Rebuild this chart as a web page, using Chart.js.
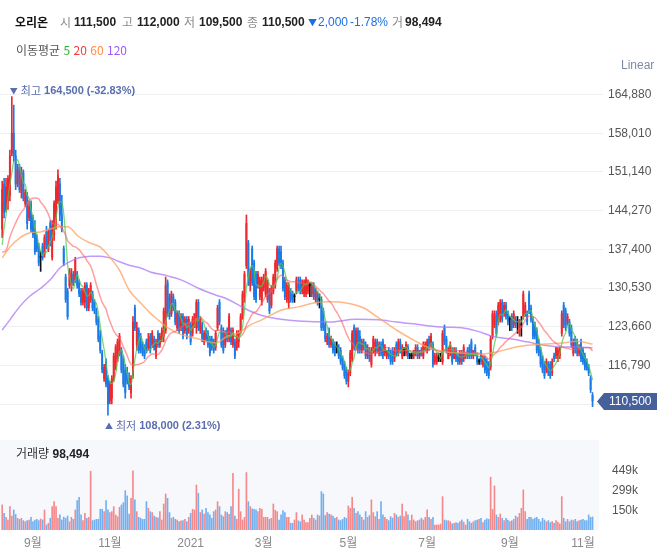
<!DOCTYPE html>
<html lang="ko">
<head>
<meta charset="utf-8">
<title>오리온</title>
<script src="https://cdn.jsdelivr.net/npm/chart.js@4.4.1/dist/chart.umd.min.js"></script>
<style>
  html, body { margin:0; padding:0; background:#fff; }
  #wrap { position:relative; width:657px; height:553px; overflow:hidden; font-family:"Liberation Sans","Noto Sans CJK KR",sans-serif; }
  #wrap canvas { position:absolute; left:0; top:0; }
  .t { position:absolute; white-space:nowrap; font-size:12px; line-height:16px; }
  .name { color:#111; font-weight:700; font-family:"Noto Sans CJK KR",sans-serif; }
  .lb { color:#8b8b8b; font-family:"Noto Sans CJK KR",sans-serif; }
  .v { color:#222; font-weight:700; }
  .dn { color:#1b6fe4; }
  #volPanel { position:absolute; left:0; top:440px; width:599px; height:90px; background:#f7f8fc; }
</style>
</head>
<body>
<div id="wrap">
  <div id="volPanel"></div>
  <canvas id="vol" width="657" height="553"></canvas>
  <canvas id="price" width="657" height="553"></canvas>
  <div id="hdr"></div>
  <div class="t" style="left:16px;top:42px;color:#555;font-family:'Noto Sans CJK KR',sans-serif;">이동평균 <span style="color:#35b035">5</span> <span style="color:#f23b3b">20</span> <span style="color:#ff8c45">60</span> <span style="color:#9b5cf6">120</span></div>
  <div class="t" style="left:621px;top:57px;color:#7d8ba3;">Linear</div>
  <div class="t" id="volTitle" style="left:16px;top:445px;color:#333;"></div>
</div>
<script>
// ---------------- data (prices in thousand KRW, volume in thousand shares) ----------------
const monthTickIdx    = [16, 56, 98, 136, 180, 221, 264, 302];
const monthTickLabels = ['9월', '11월', '2021', '3월', '5월', '7월', '9월', '11월'];
const priceTicks = [109920, 116790, 123660, 130530, 137400, 144270, 151140, 158010, 164880];

const opensK = [
141,149,144.5,146,147,154.5,158,154,149,152,
147.5,151,145.5,147,143,145.5,143,141,139.5,138,
136,138,136.5,140.5,137.5,142,136,140,143,146,
149,143.5,137.5,132.5,130,131,131,133,132,133,
131.5,130,128,128,131,127,128.5,129.5,128,126.5,
125,122,119,114.5,117.5,114.5,110.5,111,114.5,116.5,
118,119,119.5,118,116,115.5,114.5,112,115,127,
120.5,123,122,120.5,120,121,120,122,120.5,121.5,
118.5,122.5,120.5,121.5,122,123,131.5,129,126,129,
128,123.5,126,123.5,125.5,123,125,123,124,122.5,
124,123.5,128,123,124,121,123,122.5,121.5,121.5,
121,120,123.5,128,123.5,123,120.5,123,121.5,123,
120.5,121,120,121,123,125.5,129,134.5,138.5,131,
137.5,135,133,131,129,128,130.5,129.5,128.5,130,
127.5,130,131,134,137.5,137,135,132,128.5,128,
130,129.5,129,130,131,132,130,129.5,129.5,130,
131,129.5,131,128.5,129.5,128.5,128.5,126.5,124,121,
123,120.5,121,120.5,120,120,119.5,118,117,116,
114,115.5,118,123.5,120,123,122,119.5,121,120.5,
118.5,119.5,117,119.5,119,121,119,120.5,121,119,
118.5,119.5,119,119.5,118,120.5,119,121,118.5,119.5,
119,120,118.5,118.5,118.5,119,120,118.5,119.5,118.5,
119.5,119.5,121.5,120.5,120.5,117.5,117.5,118,118,117.5,
123.5,121.5,118,119,119.5,118,119.5,118.5,117.5,119,
118,118.5,119.5,120,121,118.5,120,118.5,117.5,119,
117,118,117.5,117,116.5,122,124,126,124.5,125,
128,126,127.5,126,125,125.5,124,125,124.5,122.5,
124,125.5,126,126,129.5,127,125,124,123,121,
119.5,118,117,116,117,117,115.5,118.5,118.5,118,
118.5,122.5,127.5,126.5,124.5,124.5,123.5,119,121.5,121,
119,121,119.5,118.5,117.5,116.5,114.5,111.5];

const highsK = [
149.5,150,150,150.5,155,164.5,163,155,152.5,152.5,
152,151.5,148,147.5,146,146,143.5,142.5,140,138.5,
137,138.5,140,141.5,141,142.5,142.5,146,149.5,151.5,
150,147,138,133,130.5,134,134,133.5,136,133.5,
132,130.5,130.5,131.5,131.5,130.5,131.5,130,128.5,127,
125.5,123,119.5,117,118,115,114,115,119,120.5,
121.5,122.5,120,118.5,117,116.5,115.5,115,125.5,127.5,
124.5,123.5,122.5,121,120.5,121.5,122.5,122.5,123,122,
121.5,123,122.5,123.5,127,132.5,132,129.5,130,129.5,
128.5,126.5,126.5,126,126,125.5,125.5,125.5,124.5,125.5,
126,128.5,128.5,125.5,124.5,123,123.5,123,122,122,
121.5,123,127.5,128.5,124,123.5,123,123.5,126,123.5,
123.5,121.5,123,123,126,130,133.5,143.5,139,134,
138,135.5,133.5,133.5,132.5,132.5,133,134,132,130.5,
131,133,135.5,138,138,138,135.5,132.5,131.5,131.5,
130.5,130,129.5,132.5,132.5,132.5,132,132,132.5,132,
131.5,131.5,131.5,130.5,130,129.5,129,127,124.5,122.5,
123.5,122,121.5,121,121,120.5,120,118.5,117.5,116.5,
116,119.5,123,124,123.5,123.5,123,121.5,121.5,121,
120.5,120,120,122,121.5,121.5,121,121,121.5,120.5,
119.5,120,119.5,120,120,121,121.5,121.5,120.5,120,
121,120.5,119,119,119.5,120.5,120.5,119.5,120,121,
121,121.5,122,122.5,121,119,119,119,119,123,
124,122,120,121,120,120,120,119,119.5,119.5,
120.5,119,120,120.5,121.5,119.5,120.5,119,118,119.5,
118.5,118.5,118,117.5,122,126.5,126.5,126.5,128,128.5,
128.5,128,128,126.5,125.5,126,126.5,125.5,125.5,125,
125.5,130,128,126.5,130,127.5,125.5,124.5,123.5,121.5,
120,118.5,117.5,118,117.5,117.5,118,119,120,120,
120,126.5,128,127,126,125,124,121.5,122,121.5,
120.5,121.5,120,119,118,117,115,112];

const lowsK = [
139.5,143,144,144.5,146,154,153,148,148.5,147.5,
146.5,146,145,141,142.5,140.5,139.5,136.5,137,134.5,
133.5,135.5,136,137.5,137,138,135.5,139,141,145.5,
142.5,140.5,134.5,128,125,130.5,130,131,131.5,130.5,
129,127.5,127.5,127,126.5,126.5,128,126.5,126,124,
121,119,115.5,114,113,108,110,110,114,116,
117.5,118.5,115.5,113,111,113.5,112.5,111,114.5,123,
119.5,119,119,118.5,118,119,119.5,119,120,119.5,
118,120,120,121,121,122.5,125.5,125,125.5,126.5,
124,123,122.5,123,121.5,122.5,121.5,122.5,120.5,122,
123.5,122.5,123,122.5,121,120.5,121,120,118.5,119.5,
119,119.5,123,124,120,119,120,121,121,120.5,
120,118,119.5,120,122.5,125,128,134,131,130,
131,128.5,128,130.5,128.5,127.5,130,129,128,126,
127,129.5,130.5,133.5,134.5,134,130,128.5,128,127,
128,128,128,129.5,130,129.5,129.5,129,129,129.5,
129,129,128.5,128,127.5,127,123,123,121,120.5,
120,120,119,118.5,119,118,117,116,114.5,113.5,
113,115,117.5,119.5,119.5,119,119,119,119.5,118,
118,117.5,116.5,119,118.5,119,118.5,118.5,118,118.5,
118,118,117,117,117.5,118.5,118.5,119,118,118.5,
118.5,118,118,118,118,118.5,118,118,118.5,118,
119.5,119,119.5,120,116.5,117,117,117.5,117.5,117,
120.5,119,118,118.5,117,118,117.5,117,117,117,
117.5,118,118,118,118,118,118.5,117,117,117,
116.5,115.5,115,114.5,116,121.5,123.5,122,124,124.5,
124.5,125.5,125,124,123,123,123.5,123.5,122.5,122,
122,125,125.5,124,126,124.5,121.5,121.5,119,118.5,
116.5,115.5,114.5,115.5,115,114.5,115,117.5,118,117.5,
118,122,123.5,123,124,122,120,118.5,119,118.5,
118.5,117.5,117,116,116,115,112,109.5];

const closesK = [
148,144,148.5,150,154,158,154,149,151.5,148,
151,146.5,147.5,142,145,141,140,137,137.5,135,
136,136,139.5,138,140.5,139,141.5,145.5,148.5,150.5,
143.5,141,135,128.5,125.5,133.5,133,131.5,135.5,131,
129.5,128,130,131,127,130,131,127,126.5,124.5,
121.5,119.5,116,116.5,113.5,110,113.5,114.5,118.5,120,
121,122,116,113.5,112,114,113,114.5,124.5,123.5,
123.5,119.5,119.5,119,118.5,119.5,121.5,119.5,122.5,120,
121,120.5,122,123,126.5,131,126,125.5,129.5,127,
124.5,126,123,125.5,122,125,122,125,121,125,
126,128,123.5,125,121.5,122.5,121.5,120.5,119,120,
119.5,122.5,127,124.5,120.5,119.5,122.5,121.5,125.5,121,
123,118.5,122.5,122.5,125.5,129.5,133,142,132.5,133.5,
131.5,129,128.5,133,132,132,132.5,133.5,131.5,126.5,
130.5,132.5,135,137.5,135,134.5,130.5,129,131,131,
128.5,128.5,129,132,130.5,130,131.5,131.5,132,131.5,
131,131,129,130,128,128.5,123.5,123.5,121.5,122,
120.5,121.5,119.5,119,120,118.5,117.5,116.5,115,114,
115.5,119,122.5,120,123,119.5,119.5,121,120,118.5,
120,118,119.5,121.5,121,119.5,120.5,119,118.5,120,
119.5,118.5,117.5,117.5,119.5,119,121,119.5,120,119.5,
120.5,118.5,118.5,118.5,119.5,120,118.5,119.5,118.5,120.5,
120.5,121,120,122,117,118.5,118.5,118,118,122.5,
121,119.5,119.5,120.5,117.5,119.5,118,117.5,119,117.5,
120,119,118.5,118.5,118.5,119.5,119,117.5,117.5,117.5,
118,116,115.5,115,121.5,126,125.5,122.5,127.5,128,
125,127.5,125.5,124.5,125,123.5,126,124,124.5,124.5,
124,129.5,127.5,124.5,126.5,125,122,122,119.5,119,
117,116,115,117.5,115.5,115,117.5,118,120,119.5,
120,126,124,123.5,125.5,122.5,120.5,121,119.5,119,
120,118,117.5,116.5,116,115.5,112.5,110.5];

const volumesK = [
190,126,96,76,177,106,152,118,89,81,
89,71,63,71,76,96,63,76,81,71,
84,76,152,38,51,89,177,215,177,89,
114,76,98,89,106,63,96,81,152,223,
248,114,71,126,88,96,445,71,76,81,
81,157,157,139,223,152,132,139,177,114,
101,172,190,207,298,258,120,240,449,228,
139,96,89,81,81,215,164,139,132,106,
96,92,139,76,197,273,240,132,89,96,
81,76,63,70,71,81,63,96,126,157,
152,341,278,132,152,120,164,132,114,89,
139,152,215,177,114,101,139,132,118,177,
430,106,81,309,139,76,96,435,215,177,
160,157,152,139,164,157,96,96,96,81,
89,197,150,139,76,114,147,132,96,96,
51,51,76,132,70,63,114,76,56,56,
89,114,89,76,114,106,291,273,110,132,
121,114,106,89,96,76,71,81,96,88,
182,164,248,164,126,139,114,96,76,139,
96,110,228,132,101,139,81,215,114,96,
81,71,101,90,126,114,96,106,197,101,
139,114,71,114,76,63,70,76,89,76,
96,152,96,81,96,38,38,38,45,253,
76,71,71,63,46,51,56,51,63,76,
60,38,81,63,51,63,71,76,81,89,
56,76,85,81,400,157,334,114,96,121,
89,71,89,76,63,70,81,106,96,126,
164,304,139,81,96,96,81,90,96,81,
63,89,76,63,71,56,63,51,71,60,
46,253,89,63,81,63,76,71,81,63,
71,75,81,71,71,114,96,98.494];

const ma5Lead  = [[0,138200],[1,141200],[2,143500],[3,146500]];
const ma20Lead = [[0,136900],[2,137200],[4,139600],[7,142100],[9,143500],[12,144900],[14,146100],[17,146500]];
const ma60Pts  = [[0,135900],[4,137800],[9,139400],[14,140300],[20,140500],[25,141000],[30,141400],[34,141400],[40,139600],[46,138500],[51,137800],[56,136000],[61,133700],[66,130200],[72,127900],[77,126100],[81,124900],[86,123500],[91,122600],[97,121900],[102,121500],[107,121000],[111,120800],[117,122000],[123,122600],[129,124000],[135,124900],[140,125800],[145,126600],[154,127200],[162,127900],[170,128100],[179,127900],[188,127000],[196,125200],[205,123100],[214,121300],[222,119900],[231,119200],[239,119000],[247,118800],[257,119200],[265,119900],[273,120400],[282,120600],[291,120800],[299,121100],[307,120600]];
const ma120Pts = [[0,123100],[4,124900],[9,127200],[14,129000],[20,130500],[25,132000],[30,134100],[35,135200],[40,135900],[46,136200],[51,136200],[56,135900],[61,135200],[66,134600],[72,134100],[77,133400],[86,132700],[93,132000],[102,130500],[111,129300],[117,128600],[123,127500],[128,126600],[133,125900],[138,125400],[145,125000],[154,124700],[170,124500],[184,125000],[196,124900],[205,124500],[214,124200],[222,123800],[231,123600],[239,123500],[247,122900],[256,121900],[265,121500],[273,121000],[282,120400],[291,120100],[299,120100],[307,119900]];

// ---------------- build ----------------
const N = closesK.length;
const O = opensK.map(v => v * 1000);
const C = closesK.map(v => v * 1000);
const H = highsK.map((v, i) => Math.max(v * 1000, O[i], C[i]));
const L = lowsK.map((v, i) => Math.min(v * 1000, O[i], C[i]));
const V = volumesK;
const idx = [...Array(N).keys()];
const last = N - 1;

const RED = '#f0262d', BLUE = '#1b7be6', BLACK = '#111111';
const VRED = '#f4898c', VBLUE = '#73b0f0';
const candleColor = idx.map(i => C[i] > O[i] ? RED : (C[i] < O[i] ? BLUE : BLACK));
const volColor = idx.map(i => C[i] >= O[i] ? VRED : VBLUE);

const fmt = v => Math.round(v).toLocaleString('en-US');

function sma(period, lead) {
  const pts = lead.map(([i, v]) => ({x: i, y: v}));
  for (let i = period - 1; i < N; i++) {
    let s = 0;
    for (let k = i - period + 1; k <= i; k++) s += C[k];
    pts.push({x: i, y: s / period});
  }
  return pts;
}

// header
(function () {
  const prev = C[last - 1];
  const chg = C[last] - prev;
  const pct = (chg / prev * 100).toFixed(2);
  const parts = [
    [15, '오리온', 'name'],
    [60, '시', 'lb'], [74, fmt(O[last]), 'v'],
    [122, '고', 'lb'], [137, fmt(H[last]), 'v'],
    [184, '저', 'lb'], [199, fmt(L[last]), 'v'],
    [247, '종', 'lb'], [262, fmt(C[last]), 'v'],
    [308, (chg < 0 ? '▼' : '▲'), 'dn arrow'],
    [318, fmt(Math.abs(chg)), 'dn'],
    [350, pct + '%', 'dn'],
    [392, '거', 'lb'], [405, fmt(V[last] * 1000), 'v']
  ];
  const hdr = document.getElementById('hdr');
  parts.forEach(([x, txt, cls]) => {
    const s = document.createElement('div');
    s.className = 't ' + cls;
    s.style.left = x + 'px';
    s.style.top = '14px';
    if (cls.indexOf('arrow') >= 0) { s.style.fontSize = '9px'; s.style.fontFamily = '"Noto Sans CJK KR",sans-serif'; s.style.top = '15px'; }
    s.textContent = txt;
    hdr.appendChild(s);
  });
  document.getElementById('volTitle').innerHTML =
    '<span style="font-family:\'Noto Sans CJK KR\',sans-serif">거래량</span> <b style="color:#222">' + fmt(V[last] * 1000) + '</b>';
})();

Chart.defaults.font.family = '"Liberation Sans", "Noto Sans CJK KR", sans-serif';
Chart.defaults.font.size = 12;

const X_MIN = -1.144, X_MAX = 312.44;
const P_MIN = 105360, P_MAX = 167450;

// ---------- price chart ----------
const decoPlugin = {
  id: 'deco',
  afterDatasetsDraw(chart) {
    const {ctx, chartArea, scales: {x, y}} = chart;
    let hi = 0, lo = 0;
    for (let i = 1; i < N; i++) { if (H[i] > H[hi]) hi = i; if (L[i] < L[lo]) lo = i; }
    const drawMark = (px, py, arrow, label, value, pct) => {
      ctx.save();
      ctx.fillStyle = '#5a6dad';
      ctx.textBaseline = 'middle';
      ctx.textAlign = 'left';
      let cx = px;
      ctx.font = '8px "Noto Sans CJK KR", sans-serif';
      ctx.fillText(arrow, cx, py);
      cx += ctx.measureText(arrow).width + 3;
      ctx.font = '11px "Noto Sans CJK KR", sans-serif';
      ctx.fillText(label, cx, py);
      cx += ctx.measureText(label).width + 3;
      ctx.font = 'bold 11px "Liberation Sans", sans-serif';
      ctx.fillText(value + ' ' + pct, cx, py);
      ctx.restore();
    };
    const pHi = ((C[last] - H[hi]) / H[hi] * 100).toFixed(2);
    const pLo = ((C[last] - L[lo]) / L[lo] * 100).toFixed(2);
    drawMark(x.getPixelForValue(hi) - 2, y.getPixelForValue(H[hi]) - 6, '▼', '최고', fmt(H[hi]), '(' + pHi + '%)');
    drawMark(x.getPixelForValue(lo) - 3, y.getPixelForValue(L[lo]) + 11, '▲', '최저', fmt(L[lo]), '(' + pLo + '%)');

    // current price tag
    const yc = Math.round(y.getPixelForValue(C[last])) + 0.5;
    const tip = chartArea.right - 6, bx = chartArea.right + 1, rx = 657;
    ctx.save();
    ctx.fillStyle = '#46609c';
    ctx.beginPath();
    ctx.moveTo(tip, yc);
    ctx.lineTo(bx, yc - 8.5);
    ctx.lineTo(rx, yc - 8.5);
    ctx.lineTo(rx, yc + 8.5);
    ctx.lineTo(bx, yc + 8.5);
    ctx.closePath();
    ctx.fill();
    ctx.fillStyle = '#ffffff';
    ctx.font = '12px "Liberation Sans", sans-serif';
    ctx.textBaseline = 'middle';
    ctx.textAlign = 'left';
    ctx.fillText(fmt(C[last]), bx + 5, yc + 0.5);
    ctx.restore();
  }
};

new Chart(document.getElementById('price'), {
  type: 'bar',
  data: {
    datasets: [
      { type: 'bar', label: 'wick', data: idx.map(i => ({x: i, y: [L[i], H[i]]})),
        backgroundColor: candleColor, barThickness: 1, grouped: false, order: 10 },
      { type: 'bar', label: 'body', data: idx.map(i => ({x: i, y: [O[i], C[i]]})),
        backgroundColor: candleColor, barThickness: 1.3, minBarLength: 1, grouped: false, order: 9 },
      { type: 'line', label: 'MA120', data: ma120Pts.map(([i, v]) => ({x: i, y: v})),
        borderColor: 'rgba(165,110,250,0.7)', borderWidth: 1.5, pointRadius: 0, cubicInterpolationMode: 'monotone', order: 4 },
      { type: 'line', label: 'MA60', data: ma60Pts.map(([i, v]) => ({x: i, y: v})),
        borderColor: 'rgba(255,160,95,0.75)', borderWidth: 1.5, pointRadius: 0, cubicInterpolationMode: 'monotone', order: 3 },
      { type: 'line', label: 'MA20', data: sma(20, ma20Lead),
        borderColor: 'rgba(255,95,95,0.6)', borderWidth: 1.5, pointRadius: 0, cubicInterpolationMode: 'monotone', order: 2 },
      { type: 'line', label: 'MA5', data: sma(5, ma5Lead),
        borderColor: 'rgba(80,200,80,0.75)', borderWidth: 1.3, pointRadius: 0, cubicInterpolationMode: 'monotone', order: 1 }
    ]
  },
  options: {
    responsive: false, animation: false, devicePixelRatio: 1,
    layout: { padding: { top: 80, bottom: 123, left: 0, right: 0 } },
    plugins: { legend: { display: false }, tooltip: { enabled: false } },
    scales: {
      x: { type: 'linear', min: X_MIN, max: X_MAX, offset: false, display: false },
      y: {
        type: 'linear', position: 'right', min: P_MIN, max: P_MAX,
        afterBuildTicks: s => { s.ticks = priceTicks.map(v => ({value: v})); },
        afterFit: s => { s.width = 54; },
        grid: { color: '#eef0f3', drawTicks: false },
        border: { display: false },
        ticks: {
          padding: 5, color: '#555', font: { size: 12 },
          callback: function (v) {
            const yc = this.getPixelForValue(C[last]);
            return Math.abs(this.getPixelForValue(v) - yc) < 12 ? '' : fmt(v);
          }
        }
      }
    }
  },
  plugins: [decoPlugin]
});

// ---------- volume chart ----------
const vMax = Math.max(...V);
new Chart(document.getElementById('vol'), {
  type: 'bar',
  data: {
    datasets: [{ data: idx.map(i => ({x: i, y: V[i]})), backgroundColor: volColor, barThickness: 1, grouped: false }]
  },
  options: {
    responsive: false, animation: false, devicePixelRatio: 1,
    layout: { padding: { top: 440, bottom: 0, left: 0, right: 0 } },
    plugins: { legend: { display: false }, tooltip: { enabled: false } },
    scales: {
      x: {
        type: 'linear', min: X_MIN, max: X_MAX, offset: false,
        afterBuildTicks: s => { s.ticks = monthTickIdx.map(v => ({value: v})); },
        afterFit: s => { s.height = 23; },
        grid: { display: false, drawTicks: false }, border: { display: false },
        ticks: { padding: 6, color: '#888', font: { size: 12 }, maxRotation: 0, autoSkip: false,
                 callback: v => monthTickLabels[monthTickIdx.indexOf(v)] }
      },
      y: {
        type: 'linear', position: 'right', min: 0, max: vMax * 1.518,
        afterBuildTicks: s => { s.ticks = [1, 2, 3].map(k => ({value: vMax * k / 3})); },
        afterFit: s => { s.width = 54; },
        grid: { display: false, drawTicks: false }, border: { display: false },
        ticks: { padding: 9, color: '#555', font: { size: 12 }, callback: v => Math.round(v) + 'k' }
      }
    }
  }
});
</script>
</body>
</html>
